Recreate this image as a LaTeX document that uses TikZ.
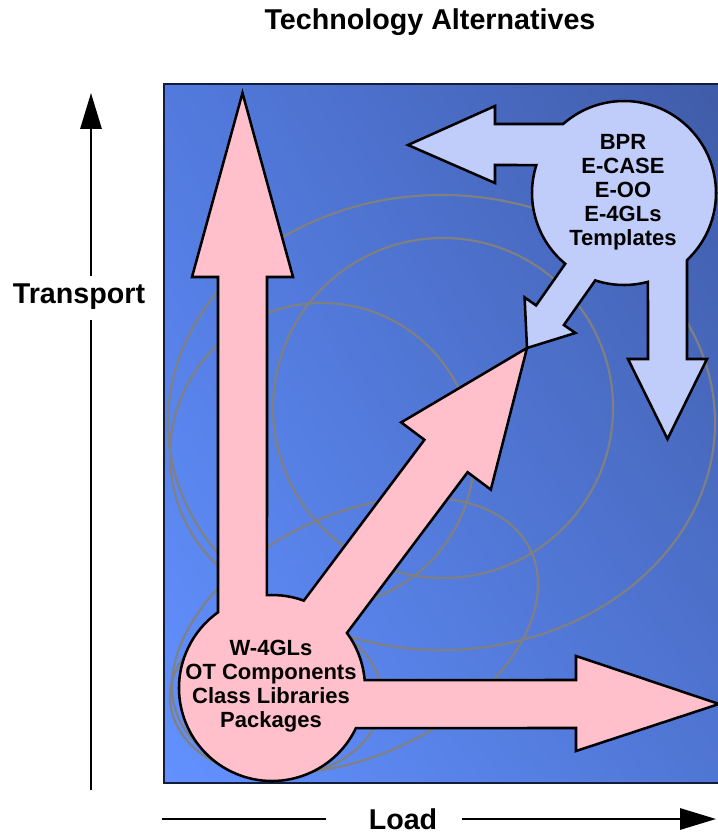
\documentclass[tikz,border=0pt]{standalone}
\usepackage{fontspec}
\setmainfont{Liberation Sans}
\usetikzlibrary{arrows.meta,calc,shadings}

\definecolor{pinkfill}{RGB}{255,192,203}
\definecolor{bluefill}{RGB}{192,204,250}
\definecolor{ringgray}{RGB}{128,128,128}
\definecolor{bgll}{RGB}{98,145,255}
\definecolor{bgul}{RGB}{82,122,222}
\definecolor{bglr}{RGB}{80,118,212}
\definecolor{bgur}{RGB}{64,92,168}
\definecolor{frame}{RGB}{20,28,60}

\begin{document}
\begin{tikzpicture}[x=0.75pt,y=-0.75pt,
  ringline/.style={draw=ringgray, line width=1.6pt},
  pinkbody/.style={fill=pinkfill, draw=black, line width=1.9pt, line join=miter},
  bluebody/.style={fill=bluefill, draw=black, line width=1.9pt, line join=miter},
  axisline/.style={line width=1.5pt},
  axislabel/.style={font=\fontsize{21.5}{24}\selectfont\bfseries, inner sep=0pt},
  boxtext/.style={font=\fontsize{16.5}{18}\selectfont\bfseries, align=center, inner sep=0pt},
]
\useasboundingbox (0,0) rectangle (717,838);

% shaded panel
\shade[upper left=bgul, upper right=bgur, lower left=bgll, lower right=bglr]
  (164,84) rectangle (722,783);
\draw[frame, line width=1.5pt] (164,84) rectangle (722,783);

% background rings
\begin{scope}
  \clip (164,84) rectangle (717,783);
  \draw[ringline] (441.5,422.5) ellipse [x radius=273.5, y radius=227.5];
  \draw[ringline] (443,408) circle [radius=170];
  \draw[ringline] (322,455) circle [radius=152];
  \draw[ringline, rotate around={26:(355,635)}] (355,635) ellipse [x radius=195, y radius=120];
  \draw[ringline] (276,697) ellipse [x radius=106, y radius=80];
\end{scope}

% pink hub with three arrows
\coordinate (pc) at (272,688);
\draw[pinkbody]
  ($(pc)+(234.5:93)$) -- (218,277) -- (192,277) -- (242.5,93) -- (293,277) -- (267,277)
  -- ($(pc)+(266.9:93)$) arc[start angle=266.9, end angle=290, radius=93]
  -- (424.4,439.8) -- (401.2,422.4) -- (527,348) -- (490.8,489.6) -- (467.6,472.2)
  -- ($(pc)+(323.7:93)$) arc[start angle=323.7, end angle=355.1, radius=93]
  -- (576,680) -- (576,656) -- (719,704) -- (576,751) -- (576,728)
  -- ($(pc)+(25.5:93)$) arc[start angle=25.5, end angle=234.5, radius=93] -- cycle;

% light blue hub with three arrows
\coordinate (bc) at (624,193);
\draw[bluebody]
  ($(bc)+(228.6:92)$) arc[start angle=228.6, end angle=406.8, radius=92]
  -- (687,359) -- (707,359) -- (667.5,439) -- (628,359) -- (648,359)
  -- ($(bc)+(74.9:92)$) arc[start angle=74.9, end angle=108.2, radius=92]
  -- (563.9,325) -- (575.4,333) -- (527,348) -- (524.6,297.4) -- (536.1,305.4)
  -- ($(bc)+(129.7:92)$) arc[start angle=129.7, end angle=197.7, radius=92]
  -- (495,165) -- (495,183) -- (408,145) -- (495,106) -- (495,124) -- cycle;

\node[boxtext] (wtext) at (271,686) {W-4GLs\\OT Components\\Class Libraries\\Packages};
\node[boxtext] (etext) at (623,192) {BPR\\E-CASE\\E-OO\\E-4GLs\\Templates};

% title and axes
\node[axislabel] (title) at (430,22) {Technology Alternatives};

\node[axislabel] (ylab) at (79,297) {Transport};
\coordinate (ytop) at (91,93);
\coordinate (ybot) at (91,790);
\coordinate (yhi) at (91,276);
\coordinate (ylo) at (91,320);
\draw[axisline] (ybot) -- (ylo);
\draw[axisline, -{Triangle[length=27pt, width=16pt]}] (yhi) -- (ytop);

\node[axislabel] (xlab) at (403,819) {Load};
\coordinate (xleft) at (162,819);
\coordinate (xend) at (716,819);
\coordinate (xgl) at (326,819);
\coordinate (xgr) at (462,819);
\draw[axisline] (xleft) -- (xgl);
\draw[axisline, -{Triangle[length=27pt, width=16pt]}] (xgr) -- (xend);
\end{tikzpicture}
\end{document}
